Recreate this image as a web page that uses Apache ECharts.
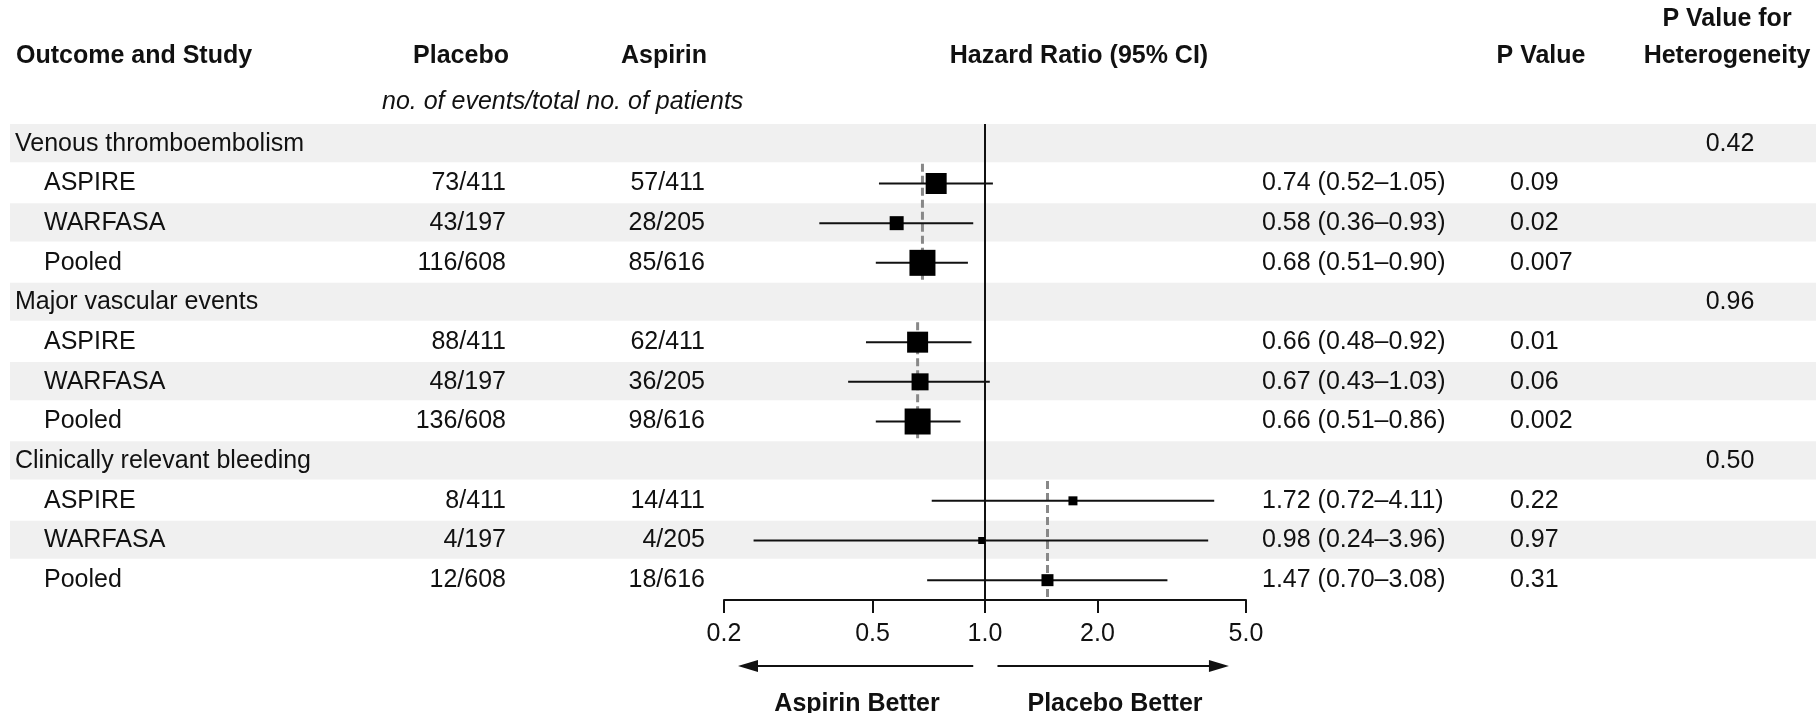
<!DOCTYPE html>
<html>
<head>
<meta charset="utf-8">
<script src="https://cdn.jsdelivr.net/npm/echarts@6.0.0/dist/echarts.min.js"></script>
<style>
  html, body { margin: 0; padding: 0; background: #fff; }
  #chart { width: 1816px; height: 713px; }
</style>
</head>
<body>
<div id="chart"></div>
<script>
// outcomes and the heterogeneity p for each one
const outcomes = ['Venous thromboembolism', 'Major vascular events', 'Clinically relevant bleeding']
const heterogeneityP = ['0.42', '0.96', '0.50']

// one entry per study row, three rows under each outcome
const studies = ['ASPIRE', 'WARFASA', 'Pooled', 'ASPIRE', 'WARFASA', 'Pooled', 'ASPIRE', 'WARFASA', 'Pooled']
const placebo = ['73/411', '43/197', '116/608', '88/411', '48/197', '136/608', '8/411', '4/197', '12/608']
const aspirin = ['57/411', '28/205', '85/616', '62/411', '36/205', '98/616', '14/411', '4/205', '18/616']
const hazardRatio = [0.74, 0.58, 0.68, 0.66, 0.67, 0.66, 1.72, 0.98, 1.47]
const ciLow = [0.52, 0.36, 0.51, 0.48, 0.43, 0.51, 0.72, 0.24, 0.70]
const ciHigh = [1.05, 0.93, 0.90, 0.92, 1.03, 0.86, 4.11, 3.96, 3.08]
const pValues = ['0.09', '0.02', '0.007', '0.01', '0.06', '0.002', '0.22', '0.97', '0.31']
// box size (study weight) as drawn
const boxSize = [21, 14, 26, 21, 17, 26, 9, 7, 12]

const tickValues = [0.2, 0.5, 1.0, 2.0, 5.0]

const FONT = '"Liberation Sans", Arial, sans-serif'
const INK = '#111'
const BAND = '#f0f0f0'

// row index of every line in the table
const rows = []
outcomes.forEach((o, g) => {
  rows.push({ kind: 'outcome', label: o, het: heterogeneityP[g] })
  for (let k = 0; k < 3; k++) {
    const i = g * 3 + k
    rows.push({ kind: 'study', i: i })
  }
})

const forestData = []
const pooledLines = []
rows.forEach((r, idx) => {
  if (r.kind === 'study') {
    forestData.push([hazardRatio[r.i], idx, ciLow[r.i], ciHigh[r.i], boxSize[r.i]])
  }
})
outcomes.forEach((o, g) => {
  const pooled = hazardRatio[g * 3 + 2]
  const first = g * 4 + 1
  pooledLines.push([[pooled, first - 0.5], [pooled, first + 2.5]])
})

function fmtHR(i) {
  return hazardRatio[i].toFixed(2) + ' (' + ciLow[i].toFixed(2) + '\u2013' + ciHigh[i].toFixed(2) + ')'
}

const chart = echarts.init(document.getElementById('chart'))

function label(text, x, y, align, font) {
  return {
    type: 'text',
    x: x, y: y,
    style: { text: text, fill: INK, font: font, align: align, verticalAlign: 'middle' }
  }
}

const option = {
  animation: false,
  backgroundColor: '#fff',
  grid: { left: 724, right: 570, top: 124, bottom: 113, containLabel: false },
  xAxis: {
    type: 'log',
    min: 0.2,
    max: 5,
    axisLine: { show: true, onZero: false, lineStyle: { color: INK, width: 2 } },
    axisTick: { show: true, customValues: tickValues, length: 13, lineStyle: { color: INK, width: 2 } },
    axisLabel: {
      customValues: tickValues,
      margin: 22,
      color: INK,
      fontSize: 25,
      fontFamily: FONT,
      formatter: v => Number(v).toFixed(1)
    },
    splitLine: { show: false },
    minorTick: { show: false }
  },
  yAxis: {
    type: 'value',
    inverse: true,
    min: -0.5,
    max: 11.5,
    show: false
  },
  series: [
    // light grey stripes on alternate rows
    {
      type: 'custom',
      z: 1,
      silent: true,
      clip: false,
      data: rows.map((r, idx) => [1, idx]).filter(d => d[1] % 2 === 0),
      renderItem: (params, api) => {
        const c = api.coord([1, api.value(1)])
        const h = api.size([0, 1])[1]
        return {
          type: 'rect',
          shape: { x: 10, y: c[1] - h / 2, width: api.getWidth() - 10, height: h - 1.5 },
          style: { fill: BAND }
        }
      }
    },
    // table text
    {
      type: 'custom',
      z: 5,
      silent: true,
      clip: false,
      data: rows.map((r, idx) => [1, idx]),
      renderItem: (params, api) => {
        const idx = api.value(1)
        const y = api.coord([1, idx])[1]
        const r = rows[idx]
        const font = '25px ' + FONT
        const t = (text, x, align) => ({
          type: 'text',
          style: { text: text, x: x, y: y, fill: INK, font: font, align: align, verticalAlign: 'middle' }
        })
        if (r.kind === 'outcome') {
          return { type: 'group', children: [t(r.label, 15, 'left'), t(r.het, 1730, 'center')] }
        }
        const i = r.i
        return {
          type: 'group',
          children: [
            t(studies[i], 44, 'left'),
            t(placebo[i], 506, 'right'),
            t(aspirin[i], 705, 'right'),
            t(fmtHR(i), 1262, 'left'),
            t(pValues[i], 1510, 'left')
          ]
        }
      }
    },
    // dashed pooled estimate lines
    ...pooledLines.map(seg => ({
      type: 'line',
      z: 2,
      silent: true,
      symbol: 'none',
      data: seg,
      lineStyle: { color: '#888', width: 3, type: [8, 4] }
    })),
    // line of no effect
    {
      type: 'line',
      z: 3,
      silent: true,
      symbol: 'none',
      data: [[1, -0.5], [1, 11.5]],
      lineStyle: { color: INK, width: 2 }
    },
    // CI whiskers and boxes
    {
      type: 'custom',
      z: 4,
      silent: true,
      data: forestData,
      renderItem: (params, api) => {
        const y = api.value(1)
        const lo = api.coord([api.value(2), y])
        const hi = api.coord([api.value(3), y])
        const c = api.coord([api.value(0), y])
        const s = api.value(4)
        return {
          type: 'group',
          children: [
            { type: 'line', shape: { x1: lo[0], y1: lo[1], x2: hi[0], y2: hi[1] }, style: { stroke: INK, lineWidth: 2 } },
            { type: 'rect', shape: { x: c[0] - s / 2, y: c[1] - s / 2, width: s, height: s }, style: { fill: '#000' } }
          ]
        }
      }
    }
  ]
}

chart.setOption(option)

// headers and the arrows under the axis
const px = v => chart.convertToPixel({ xAxisIndex: 0 }, v)
const arrowY = 666
const leftStart = px(0.93), leftEnd = px(0.218)
const rightStart = px(1.08), rightEnd = px(4.5)
const bold = '700 25px ' + FONT

chart.setOption({
  graphic: [
    label('Outcome and Study', 16, 56, 'left', bold),
    label('Placebo', 461, 56, 'center', bold),
    label('Aspirin', 664, 56, 'center', bold),
    label('Hazard Ratio (95% CI)', 1079, 56, 'center', bold),
    label('P Value', 1541, 56, 'center', bold),
    label('P Value for', 1727, 19, 'center', bold),
    label('Heterogeneity', 1727, 56, 'center', bold),
    label('no. of events/total no. of patients', 382, 102, 'left', 'italic 25px ' + FONT),
    { type: 'line', shape: { x1: leftStart, y1: arrowY, x2: leftEnd + 18, y2: arrowY }, style: { stroke: INK, lineWidth: 2 } },
    { type: 'polygon', shape: { points: [[leftEnd, arrowY], [leftEnd + 20, arrowY - 6], [leftEnd + 20, arrowY + 6]] }, style: { fill: INK } },
    { type: 'line', shape: { x1: rightStart, y1: arrowY, x2: rightEnd - 18, y2: arrowY }, style: { stroke: INK, lineWidth: 2 } },
    { type: 'polygon', shape: { points: [[rightEnd, arrowY], [rightEnd - 20, arrowY - 6], [rightEnd - 20, arrowY + 6]] }, style: { fill: INK } },
    label('Aspirin Better', 857, 704, 'center', bold),
    label('Placebo Better', 1115, 704, 'center', bold)
  ]
})
</script>
</body>
</html>
